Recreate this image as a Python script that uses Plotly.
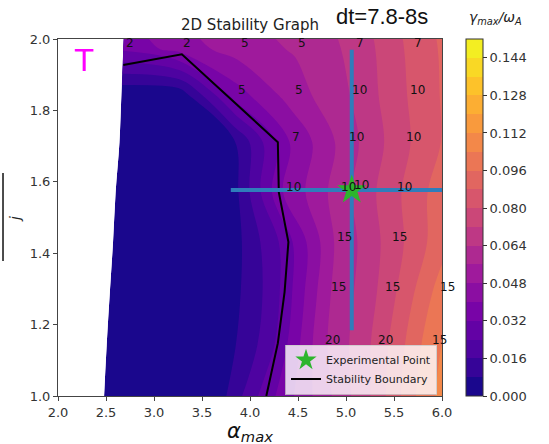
import plotly.graph_objects as go
from plotly.colors import sample_colorscale

# ---- simulation grid: rows of constant j, columns of scaled pressure ----
j_rows = [1.0, 1.143, 1.291, 1.431, 1.571, 1.711, 1.843, 1.975, 2.107]
alpha_base = [2.48, 2.507, 2.54, 2.573, 2.60, 2.64, 2.66, 2.68, 2.70]
pressure_scale = [1.0, 1.224, 1.447, 1.671, 1.895, 2.119, 2.342, 2.566]

# growth rate gamma_max / omega_A on the grid (row = j_rows, col = pressure_scale)
growth_rate = [
    [0.000, 0.000, 0.000, 0.027, 0.050, 0.072, 0.100, 0.118],
    [0.000, 0.000, 0.000, 0.020, 0.054, 0.074, 0.100, 0.118],
    [0.000, 0.000, 0.000, 0.020, 0.055, 0.074, 0.098, 0.115],
    [0.000, 0.000, 0.000, 0.024, 0.056, 0.075, 0.094, 0.110],
    [0.000, 0.000, 0.000, 0.040, 0.060, 0.078, 0.095, 0.110],
    [0.000, 0.000, 0.006, 0.040, 0.060, 0.078, 0.093, 0.108],
    [0.001, 0.002, 0.036, 0.052, 0.064, 0.080, 0.094, 0.108],
    [0.034, 0.044, 0.052, 0.057, 0.066, 0.082, 0.095, 0.110],
    [0.040, 0.050, 0.056, 0.060, 0.070, 0.085, 0.098, 0.112],
]

# most unstable toroidal mode number at unstable grid points
mode_number = [
    [None, None, None, None, None, None, None, None],
    [None, None, None, None, "20", "20", "15", None],
    [None, None, None, None, "15", "15", "15", None],
    [None, None, None, None, "15", "15", None, None],
    [None, None, None, "10", "10", "10", None, None],
    [None, None, None, "7", "10", "10", None, None],
    [None, None, "5", "5", "10", "10", None, None],
    ["2", "2", "5", "5", "7", "7", None, None],
    [None, None, None, None, None, None, None, None],
]

# stability boundary
boundary_alpha = [2.68, 3.29, 4.29, 4.30, 4.40, 4.36, 4.29, 4.21, 4.17]
boundary_j = [1.927, 1.957, 1.711, 1.571, 1.431, 1.291, 1.148, 1.045, 1.0]

# experimental point with its uncertainty
exp_alpha = [5.06]
exp_j = [1.577]
exp_alpha_err = [1.26]
exp_j_err = [0.393]
exp_mode = ["10"]

level_step = 0.008
n_bands = 19
cbar_ticks = [0.0, 0.016, 0.032, 0.048, 0.064, 0.080, 0.096, 0.112, 0.128, 0.144]

# ---- derived tables ----
alpha_grid = [[a0 * s for s in pressure_scale] for a0 in alpha_base]
j_grid = [[j] * len(pressure_scale) for j in j_rows]
col_index = list(range(len(pressure_scale)))

band_colors = sample_colorscale("Plasma", [(k + 0.5) / n_bands for k in range(n_bands)])
fill_scale = [[k / (n_bands - 1), c] for k, c in enumerate(band_colors)]
bar_scale = []
for k, c in enumerate(band_colors):
    bar_scale.append([k / n_bands, c])
    bar_scale.append([(k + 1) / n_bands, c])
zmax = level_step * n_bands

fig = go.Figure()

fig.add_trace(go.Carpet(
    carpet="grid", a=col_index, b=j_rows, x=alpha_grid, y=j_grid,
    aaxis=dict(showgrid=False, showline=False, showticklabels="none",
               startline=False, endline=False, minorgridcount=0),
    baxis=dict(showgrid=False, showline=False, showticklabels="none",
               startline=False, endline=False, minorgridcount=0),
))

fig.add_trace(go.Contourcarpet(
    carpet="grid", a=col_index, b=j_rows, z=growth_rate,
    autocontour=False,
    contours=dict(start=level_step, end=level_step * (n_bands - 1), size=level_step,
                  coloring="fill", showlines=False),
    line=dict(width=0),
    colorscale=fill_scale, showscale=False,
))

# colour bar
fig.add_trace(go.Scatter(
    x=exp_alpha, y=exp_j, mode="markers", showlegend=False, hoverinfo="skip",
    marker=dict(size=1, opacity=0, color=[0.0], cmin=0, cmax=zmax,
                colorscale=bar_scale, showscale=True,
                colorbar=dict(x=1.0625, xanchor="left", xpad=0, y=0.5, yanchor="middle",
                              len=1, lenmode="fraction", ypad=0, thickness=17,
                              outlinewidth=1, outlinecolor="#333",
                              tickvals=cbar_ticks, tickformat=".3f",
                              ticks="outside", ticklen=4, tickcolor="#333",
                              tickfont=dict(family="DejaVu Sans", size=13, color="#333"))),
))

fig.add_trace(go.Scatter(
    x=boundary_alpha, y=boundary_j, mode="lines", name="Stability Boundary",
    line=dict(color="black", width=2), legendrank=2,
))

fig.add_trace(go.Scatter(
    x=exp_alpha, y=exp_j, mode="markers", name="Experimental Point", legendrank=1,
    marker=dict(symbol="star", size=22, color="#2db52d", line=dict(width=0)),
    error_x=dict(type="data", array=exp_alpha_err, color="#2f7dbb", thickness=4, width=0),
    error_y=dict(type="data", array=exp_j_err, color="#2f7dbb", thickness=4, width=0),
))

# mode-number labels, anchored with their baseline on the grid point
label_pts = []
for r, row in enumerate(mode_number):
    for c, lab in enumerate(row):
        if lab is not None:
            label_pts.append((alpha_grid[r][c], j_rows[r], lab))
for a, j, lab in zip(exp_alpha, exp_j, exp_mode):
    label_pts.append((a, j, lab))

annotations = [
    dict(x=a, y=j, xref="x", yref="y", text=lab, showarrow=False,
         xanchor="left", yanchor="bottom", xshift=1.5, yshift=-3, borderpad=0,
         font=dict(family="DejaVu Sans", size=12, color="#111"))
    for a, j, lab in label_pts
]

annotations += [
    dict(text="2D Stability Graph", x=0.5, y=1.039, xref="paper", yref="paper",
         showarrow=False, xanchor="center", yanchor="middle",
         font=dict(family="DejaVu Sans", size=15, color="#222")),
    dict(text="dt=7.8-8s", x=0.844, y=1.062, xref="paper", yref="paper",
         showarrow=False, xanchor="center", yanchor="middle",
         font=dict(family="Liberation Sans", size=22, color="#111")),
    dict(text="T", x=0.068, y=0.941, xref="paper", yref="paper",
         showarrow=False, xanchor="center", yanchor="middle",
         font=dict(family="DejaVu Sans", size=30, color="#ff00ff")),
    dict(text="<i>γ<sub>max</sub>/ω<sub>A</sub></i>", x=1.14, y=1.06,
         xref="paper", yref="paper", showarrow=False, xanchor="center",
         yanchor="middle", font=dict(family="DejaVu Sans", size=14, color="#222")),
    dict(text="<i>α</i><sub><i>max</i></sub>", x=0.5, y=-0.10, xref="paper",
         yref="paper", showarrow=False, xanchor="center", yanchor="middle",
         font=dict(family="DejaVu Sans", size=21, color="#111")),
    dict(text="<i>j</i>", x=-0.112, y=0.496, xref="paper", yref="paper",
         showarrow=False, xanchor="center", yanchor="middle", textangle=-90,
         font=dict(family="DejaVu Sans", size=14, color="#222")),
]

axis_common = dict(showgrid=False, zeroline=False, showline=True, mirror=True,
                   linecolor="#444", linewidth=1, ticks="outside", ticklen=4,
                   tickcolor="#444", tickformat=".1f",
                   tickfont=dict(family="DejaVu Sans", size=13, color="#333"))

fig.update_layout(
    width=549, height=444,
    margin=dict(l=58, r=107, t=39, b=48),
    paper_bgcolor="white", plot_bgcolor="white",
    xaxis=dict(range=[2, 6], dtick=0.5, tick0=2, **axis_common),
    yaxis=dict(range=[1, 2], dtick=0.2, tick0=1, **axis_common),
    showlegend=True,
    legend=dict(x=0.987, y=0.004, xanchor="right", yanchor="bottom",
                bgcolor="rgba(255,255,255,0.8)", bordercolor="rgba(200,200,200,0.8)",
                borderwidth=1, font=dict(family="DejaVu Sans", size=11, color="#222"),
                tracegroupgap=0, itemwidth=30),
    annotations=annotations,
    shapes=[
        dict(type="line", xref="paper", yref="paper", x0=-0.1432, x1=-0.1432,
             y0=0.378, y1=0.625, line=dict(color="#111", width=1.5)),
    ],
)

fig.write_html("out.html")
